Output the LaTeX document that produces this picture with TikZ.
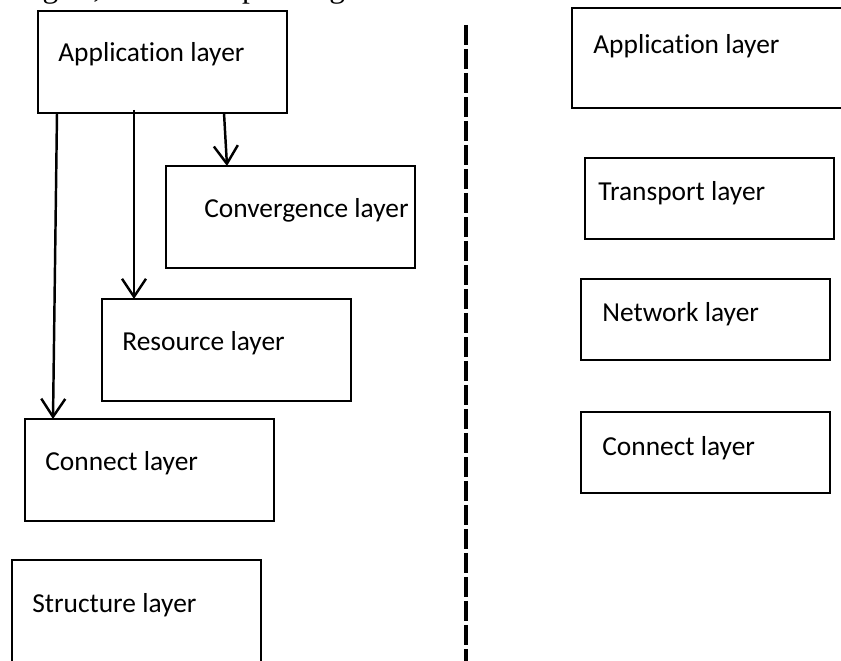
\documentclass[tikz,border=0pt]{standalone}
\usepackage{fontspec}
\setmainfont{Carlito}[Ligatures=NoCommon]
\newfontfamily\bodyserif{Liberation Serif}
\usetikzlibrary{arrows.meta,calc}

\begin{document}
\begin{tikzpicture}[x=0.02cm, y=-0.02cm,
		layerbox/.style={draw, line width=1.5pt, minimum width=4.98cm, minimum height=2.04cm, anchor=north west, inner sep=0pt, outer sep=0pt},
		flatbox/.style={layerbox, minimum height=1.62cm},
		layertext/.style={anchor=base west, inner sep=0pt, font=\fontsize{15.6}{18}\selectfont},
		downarrow/.style={line width=1.4pt, -{Straight Barb[length=0.36cm, width=0.48cm]}}]
		\useasboundingbox (0,0) rectangle (841,661);
		\clip (0,0) rectangle (841,661);
		% cut-off line of the running text above the figure
		\node[anchor=base west, inner sep=0pt, font=\bodyserif\fontsize{17.9}{20}\selectfont] (bodyline) at (-4,-2) {the grid, effective operating mechanism.};
		% left stack
		\node[layerbox] (appL) at (38,11) {};
		\node[layerbox] (conv) at (166,166) {};
		\node[layerbox] (res) at (102,299) {};
		\node[layerbox] (conL) at (25,419) {};
		\node[layerbox] (struct) at (12,560) {};
		\node[layertext] (appLtext) at (58,62) {Application layer};
		\node[layertext] (convtext) at (204,218) {Convergence layer};
		\node[layertext] (restext) at (122,351) {Resource layer};
		\node[layertext] (conLtext) at (45,471) {Connect layer};
		\node[layertext] (structtext) at (32,612) {Structure layer};
		\draw[downarrow] ($(appL.south west)+(19,0)$) -- ($(conL.north west)+(28,0)$);
		\draw[downarrow] ($(appL.south west)+(96,-3)$) -- ($(res.north west)+(32,0)$);
		\draw[downarrow] ($(appL.south west)+(186,0)$) -- ($(conv.north west)+(61,0)$);
		% divider
		\coordinate (divtop) at (466,25);
		\coordinate (divbot) at (466,680);
		\draw[line width=2.3pt, dash pattern=on 0.4cm off 0.08cm] (divtop) -- (divbot);
		% right stack
		\node[layerbox, minimum width=5.6cm, minimum height=2cm] (appR) at (572,8) {};
		\node[flatbox] (trans) at (585,158) {};
		\node[flatbox] (net) at (581,279) {};
		\node[flatbox] (conR) at (581,412) {};
		\node[layertext] (appRtext) at (593,54) {Application layer};
		\node[layertext] (transtext) at (598,201) {Transport layer};
		\node[layertext] (nettext) at (602,322) {Network layer};
		\node[layertext] (conRtext) at (602,456) {Connect layer};
	\end{tikzpicture}
\end{document}
